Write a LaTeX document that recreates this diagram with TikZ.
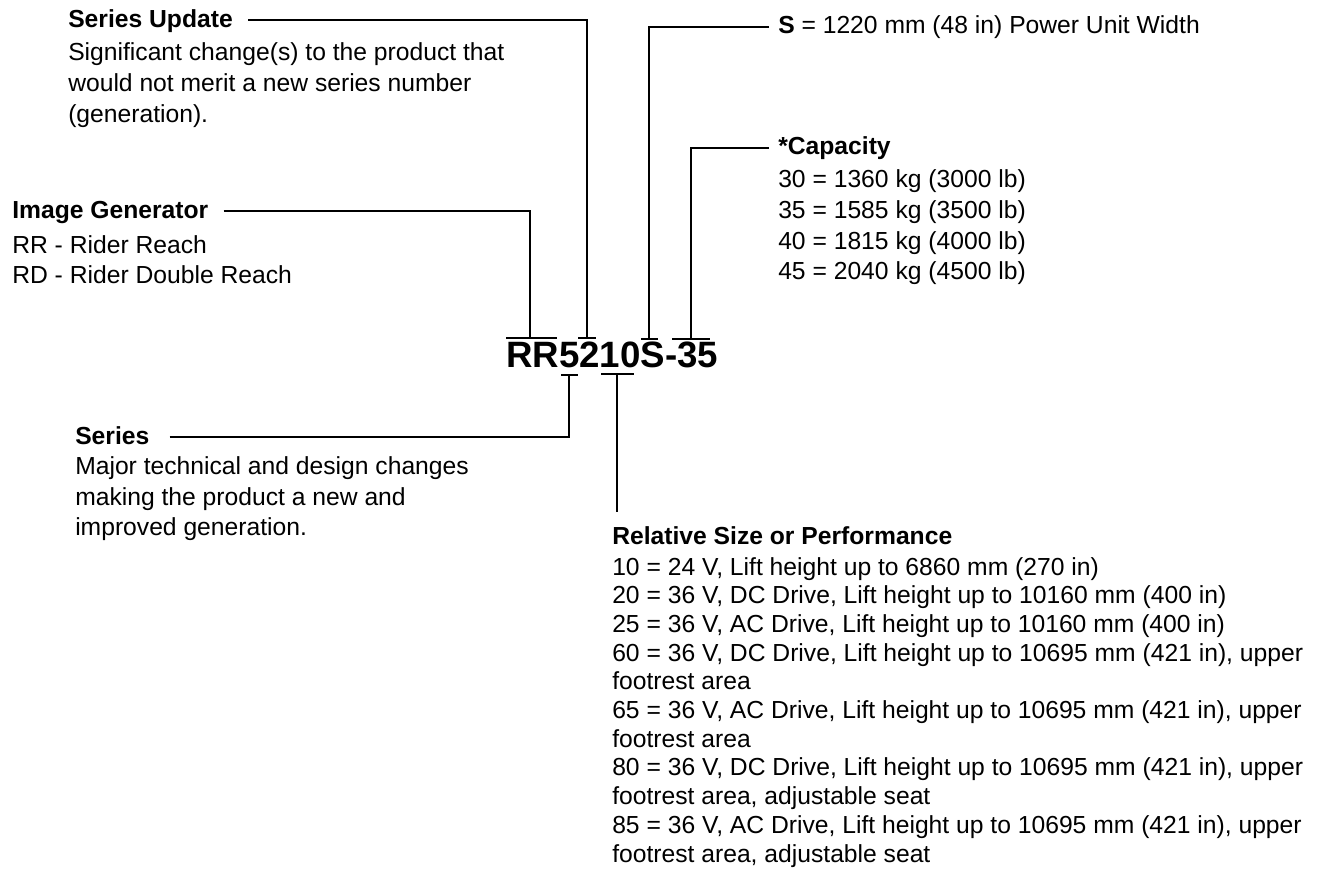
\documentclass[tikz,border=0pt]{standalone}
\usepackage{fontspec}
\setmainfont{Liberation Sans}
\begin{document}
\begin{tikzpicture}[x=0.75pt,y=-0.75pt,
  txt/.style={anchor=base west,inner sep=0pt,font=\fontsize{18.5}{22}\selectfont},
  hd/.style={txt,font=\fontsize{18.5}{22}\selectfont\bfseries},
  lead/.style={line width=1.1pt},
  bar/.style={line width=1.3pt}]
\path[use as bounding box] (0,0) rectangle (1317,870);
% code
\node[anchor=base west,inner sep=0pt,font=\fontsize{27.5}{33}\selectfont\bfseries] (code) at (506,367) {RR5210S-35};
% Series Update
\node[hd] (su) at (68,28) {Series Update};
\node[txt] (su1) at (68,61) {Significant change(s) to the product that};
\node[txt] (su2) at (68,92) {would not merit a new series number};
\node[txt] (su3) at (68,123) {(generation).};
% S
\node[txt] (s) at (778,34) {\textbf{S} = 1220 mm (48 in) Power Unit Width};
% Capacity
\node[hd] (cap) at (778,155) {*Capacity};
\node[txt] (cap1) at (778,188) {30 = 1360 kg (3000 lb)};
\node[txt] (cap2) at (778,218.5) {35 = 1585 kg (3500 lb)};
\node[txt] (cap3) at (778,249) {40 = 1815 kg (4000 lb)};
\node[txt] (cap4) at (778,279.5) {45 = 2040 kg (4500 lb)};
% Image Generator
\node[hd] (ig) at (12,219) {Image Generator};
\node[txt] (ig1) at (12,253) {RR - Rider Reach};
\node[txt] (ig2) at (12,283.5) {RD - Rider Double Reach};
% Series
\node[hd] (ser) at (75,444) {Series};
\node[txt] (ser1) at (75,474.5) {Major technical and design changes};
\node[txt] (ser2) at (75,505) {making the product a new and};
\node[txt] (ser3) at (75,535.5) {improved generation.};
% Relative size
\node[hd] (rel) at (612,544) {Relative Size or Performance};
\node[txt] (rel1) at (612,575) {10 = 24 V, Lift height up to 6860 mm (270 in)};
\node[txt] (rel2) at (612,603.7) {20 = 36 V, DC Drive, Lift height up to 10160 mm (400 in)};
\node[txt] (rel3) at (612,632.4) {25 = 36 V, AC Drive, Lift height up to 10160 mm (400 in)};
\node[txt] (rel4) at (612,661.1) {60 = 36 V, DC Drive, Lift height up to 10695 mm (421 in), upper};
\node[txt] (rel5) at (612,689.8) {footrest area};
\node[txt] (rel6) at (612,718.5) {65 = 36 V, AC Drive, Lift height up to 10695 mm (421 in), upper};
\node[txt] (rel7) at (612,747.2) {footrest area};
\node[txt] (rel8) at (612,775.9) {80 = 36 V, DC Drive, Lift height up to 10695 mm (421 in), upper};
\node[txt] (rel9) at (612,804.6) {footrest area, adjustable seat};
\node[txt] (rel10) at (612,833.3) {85 = 36 V, AC Drive, Lift height up to 10695 mm (421 in), upper};
\node[txt] (rel11) at (612,862) {footrest area, adjustable seat};
% bar points
\coordinate (igT) at (530,338);
\coordinate (suT) at (587,338);
\coordinate (sT) at (649,339);
\coordinate (capT) at (691,339);
\coordinate (serT) at (569,375);
\coordinate (relT) at (617,374);
\coordinate (relE) at (617,512);
% bars
\draw[bar] (506,338) -- (557,338);
\draw[bar] (578,338) -- (596,338);
\draw[bar] (641,339) -- (658,339);
\draw[bar] (672,339) -- (710,339);
\draw[bar] (561,375) -- (578,375);
\draw[bar] (601,374) -- (634,374);
% leaders
\draw[lead] ([shift={(15,-8)}]su.base east) -| (suT);
\draw[lead] ([shift={(15,-8)}]ig.base east) -| (igT);
\draw[lead] ([shift={(-9,-7)}]s.base west) -| (sT);
\draw[lead] ([shift={(-9,-7)}]cap.base west) -| (capT);
\draw[lead] ([shift={(20,-7)}]ser.base east) -| (serT);
\draw[lead] (relT) -- (relE);
\end{tikzpicture}
\end{document}
